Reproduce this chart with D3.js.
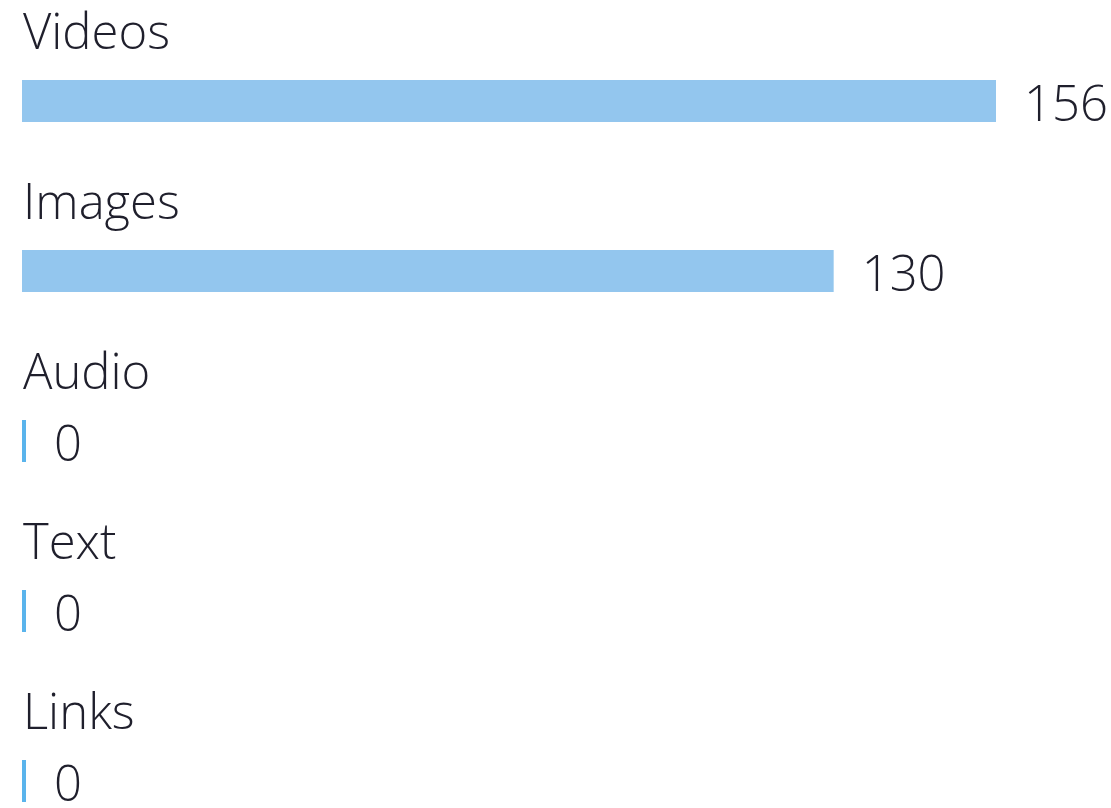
<!DOCTYPE html>
<html>
<head>
<meta charset="utf-8">
<script src="https://cdn.jsdelivr.net/npm/d3@7"></script>
<style>
  html, body { margin: 0; padding: 0; background: #ffffff; }
  svg { display: block; }
  text { font-family: "Open Sans", "Noto Sans", sans-serif; font-weight: 350; fill: #1f1f2c; }
</style>
</head>
<body>
<svg id="chart" width="1111" height="808"></svg>
<script>
// Content-type counts
const categories = ["Videos", "Images", "Audio", "Text", "Links"];
const counts = [156, 130, 0, 0, 0];

const width = 1111, height = 808;
const left = 22, barMax = 974;
const rowStep = 170, firstBarTop = 80, barH = 42;
const stubW = 4;
const fontSize = 49;

const svg = d3.select("#chart");

const x = d3.scaleLinear().domain([0, d3.max(counts)]).range([0, barMax]);
const rowTop = d3.scaleLinear().domain([0, 1]).range([firstBarTop, firstBarTop + rowStep]);

const rows = svg.selectAll("g.row")
  .data(categories.map((c, i) => ({ name: c, value: counts[i], i })))
  .join("g")
  .attr("class", "row")
  .attr("transform", d => `translate(0,${rowTop(d.i)})`);

// category label above each bar
rows.append("text")
  .attr("x", left + 1)
  .attr("y", -31)
  .attr("font-size", fontSize)
  .text(d => d.name);

// bar (zero values get a thin stub)
rows.append("rect")
  .attr("x", left)
  .attr("y", 0)
  .attr("height", barH)
  .attr("width", d => d.value > 0 ? x(d.value) : stubW)
  .attr("fill", d => d.value > 0 ? "#93c6ee" : "#5ab4ec");

// value label after the bar end
rows.append("text")
  .attr("x", d => left + (d.value > 0 ? x(d.value) : stubW) + 28)
  .attr("y", barH - 1)
  .attr("font-size", fontSize)
  .text(d => d.value);
</script>
</body>
</html>
